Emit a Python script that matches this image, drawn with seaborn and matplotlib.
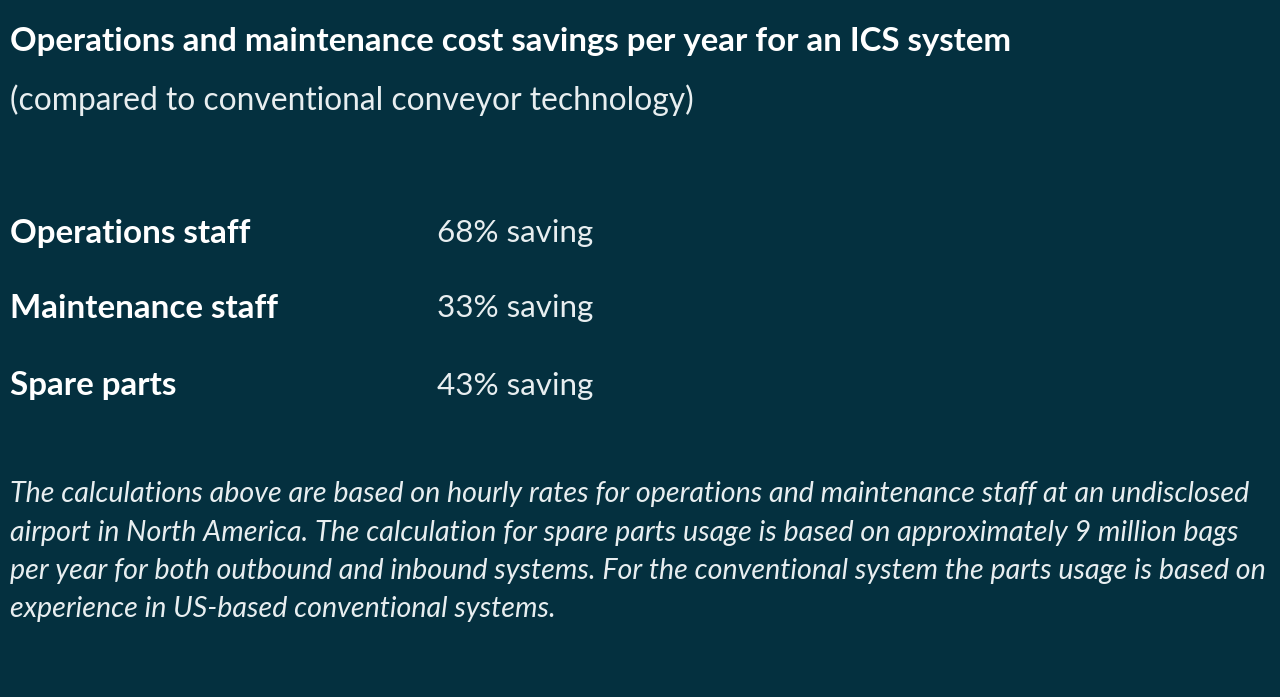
import matplotlib
matplotlib.use("Agg")
import matplotlib.pyplot as plt
import seaborn as sns

# Text content of the panel
title = "Operations and maintenance cost savings per year for an ICS system"
subtitle = "(compared to conventional conveyor technology)"
categories = ["Operations staff", "Maintenance staff", "Spare parts"]
savings = [68, 33, 43]
footnote_lines = [
    "The calculations above are based on hourly rates for operations and maintenance staff at an undisclosed",
    "airport in North America. The calculation for spare parts usage is based on approximately 9 million bags",
    "per year for both outbound and inbound systems. For the conventional system the parts usage is based on",
    "experience in US-based conventional systems.",
]

bg = "#04303f"
fg = "#ffffff"

sns.set_theme(style="white")
plt.rcParams["font.family"] = ["Lato", "DejaVu Sans"]

fig = plt.figure(figsize=(12.8, 6.97), dpi=100, facecolor=bg)
ax = fig.add_axes([0, 0, 1, 1])
ax.set_facecolor(bg)
ax.set_xlim(0, 1280)
ax.set_ylim(697, 0)
ax.axis("off")

ax.text(10, 41, title, color=fg, fontsize=23.8, fontweight="bold", va="center", ha="left")
ax.text(10, 100, subtitle, color="#e8eef0", fontsize=22.9, va="center", ha="left")

row_y = [233, 308, 386]
for y, cat, val in zip(row_y, categories, savings):
    ax.text(10, y, cat, color=fg, fontsize=23.9, fontweight="bold", va="center", ha="left")
    ax.text(437, y, f"{val}% saving", color="#e8eef0", fontsize=22.6, va="center", ha="left")

foot_y = [494, 533, 571, 609]
for y, line in zip(foot_y, footnote_lines):
    ax.text(10, y, line, color="#e8eef0", fontsize=20.6, style="italic", va="center", ha="left")

fig.savefig("out.png", dpi=100, facecolor=bg)
